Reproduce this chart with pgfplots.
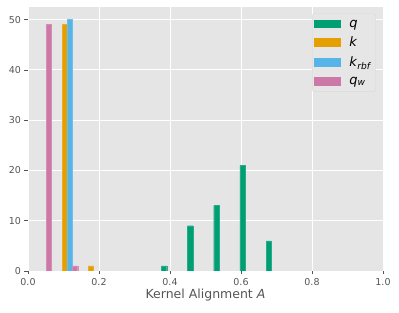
\documentclass[border=0pt]{standalone}
\usepackage{fontspec}
\setmainfont{DejaVu Sans}
\usepackage{pgfplots}
\pgfplotsset{compat=1.18}
\definecolor{cq}{HTML}{009E73}
\definecolor{ck}{HTML}{E69F00}
\definecolor{crbf}{HTML}{56B4E9}
\definecolor{cqw}{HTML}{CC79A7}
\definecolor{bg}{HTML}{E5E5E5}
\definecolor{txt}{HTML}{555555}
\begin{document}
\begin{tikzpicture}
\useasboundingbox (-28pt,-42pt) rectangle (371pt,271pt);
\begin{axis}[
  scale only axis,
  width=355pt, height=264pt,
  xmin=0, xmax=1, ymin=0, ymax=52.5,
  axis background/.style={fill=bg},
  axis line style={draw=none},
  grid=major,
  major grid style={white, line width=0.9pt},
  xtick={0,0.2,0.4,0.6,0.8,1.0},
  ytick={0,10,20,30,40,50},
  xticklabel style={/pgf/number format/fixed, /pgf/number format/fixed zerofill, /pgf/number format/precision=1},
  /pgf/number format/assume math mode=true,
  tick label style={font=\fontsize{9.5}{11}\selectfont, text=txt},
  tick align=outside,
  tick pos=left,
  major tick length=3.5pt,
  tick style={txt, line width=0.6pt},
  xlabel={Kernel Alignment \textit{A}},
  xlabel style={font=\fontsize{12.5}{14}\selectfont, text=txt, yshift=3pt},
  ybar, bar width=0.01474, bar shift=0pt,
  legend style={at={(0.98,0.975)}, anchor=north east, fill=bg!95!white, draw=black!15, rounded corners=2pt, font=\fontsize{13}{15}\selectfont, row sep=4.5pt, inner xsep=2pt, inner ysep=4pt},
  legend image code/.code={\path[draw=none, fill=none] (0pt,0pt) -- (33pt,0pt); \fill[#1, draw=none, sharp corners] (0pt,-4.3pt) rectangle (27pt,4.3pt);},
  legend cell align=left,
]
\addplot[draw=cq!85!white, fill=cq, line width=0.3pt] coordinates {(0.3832,1) (0.4569,9) (0.5306,13) (0.6043,21) (0.6780,6)};
\addlegendentry{\textit{q}}
\addplot[draw=ck!85!white, fill=ck, line width=0.3pt] coordinates {(0.1032,49) (0.1769,1)};
\addlegendentry{\textit{k}}
\addplot[draw=crbf!85!white, fill=crbf, line width=0.3pt] coordinates {(0.1179,50)};
\addlegendentry{\textit{k}\textsubscript{\textit{rbf}}}
\addplot[draw=cqw!85!white, fill=cqw, line width=0.3pt] coordinates {(0.05896,49) (0.1327,1)};
\addlegendentry{\textit{q}\textsubscript{\textit{w}}}
\end{axis}
\end{tikzpicture}
\end{document}
